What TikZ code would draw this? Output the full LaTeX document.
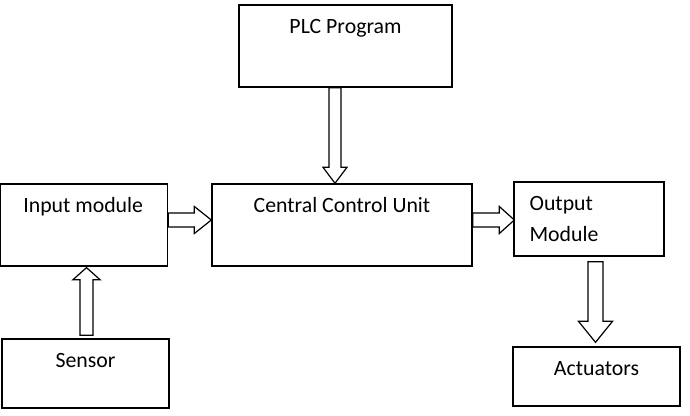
\documentclass[tikz,border=0pt]{standalone}
\usepackage{fontspec}
\setmainfont{Carlito}
\usetikzlibrary{calc}

\begin{document}
\begin{tikzpicture}[x=0.75pt,y=-0.75pt,
  font=\fontsize{16.35pt}{23.25pt}\selectfont,
  box/.style 2 args={draw,line width=1pt,inner sep=0pt,
    minimum width=#1*0.75pt,minimum height=#2*0.75pt},
  blockarrow/.style={draw,fill=white,line width=0.9pt,line join=miter}]
\useasboundingbox (0,0) rectangle (690,416);
% boxes
\node[box={213}{82}] (plc) at (345.5,46) {};
\node[box={260}{82}] (ccu) at (342,225) {};
\node[box={167}{82}] (inp) at (84.2,225) {};
\node[box={167}{69}] (sen) at (85.5,373.5) {};
\node[box={150}{74}] (out) at (589,219) {};
\node[box={167}{59}] (act) at (596.5,376.5) {};
% labels
\node[anchor=base] (plclabel) at ($(plc.north)+(0,29.5)$) {PLC Program};
\node[anchor=base] (cculabel) at ($(ccu.north)+(0,29.5)$) {Central Control Unit};
\node[anchor=base] (inplabel) at ($(inp.north)+(-1,29.5)$) {Input module};
\node[anchor=base] (senlabel) at ($(sen.north)+(0,29.5)$) {Sensor};
\node[anchor=base] (actlabel) at ($(act.north)+(0,29.5)$) {Actuators};
\node[anchor=base west,align=left,inner sep=0pt] (outlabel) at ($(out.north west)+(16,60)$) {Output\\Module};
% arrow axes
\coordinate (c1) at (335,0);
\coordinate (c2) at (0,220);
\coordinate (c3) at (86.5,0);
\coordinate (c5) at (595.5,0);
% PLC -> CCU
\draw[blockarrow] ($(c1 |- plc.south)+(-6,0)$) -- ($(c1 |- ccu.north)+(-6,-16)$)
  -- ($(c1 |- ccu.north)+(-12,-16)$) -- (c1 |- ccu.north)
  -- ($(c1 |- ccu.north)+(12,-16)$) -- ($(c1 |- ccu.north)+(6,-16)$)
  -- ($(c1 |- plc.south)+(6,0)$) -- cycle;
% input -> CCU
\draw[blockarrow] ($(inp.east |- c2)+(0,-7)$) -- ($(ccu.west |- c2)+(-17,-7)$)
  -- ($(ccu.west |- c2)+(-17,-13.5)$) -- (ccu.west |- c2)
  -- ($(ccu.west |- c2)+(-17,13.5)$) -- ($(ccu.west |- c2)+(-17,7)$)
  -- ($(inp.east |- c2)+(0,7)$) -- cycle;
% sensor -> input
\draw[blockarrow] ($(c3 |- sen.north)+(-6.5,-3)$) -- ($(c3 |- inp.south)+(-6.5,13)$)
  -- ($(c3 |- inp.south)+(-13.5,13)$) -- ($(c3 |- inp.south)+(0,1)$)
  -- ($(c3 |- inp.south)+(13.5,13)$) -- ($(c3 |- inp.south)+(6.5,13)$)
  -- ($(c3 |- sen.north)+(6.5,-3)$) -- cycle;
% CCU -> output
\draw[blockarrow] ($(ccu.east |- c2)+(0,-7)$) -- ($(out.west |- c2)+(-14,-7)$)
  -- ($(out.west |- c2)+(-14,-13.5)$) -- ($(out.west |- c2)+(1,0)$)
  -- ($(out.west |- c2)+(-14,13.5)$) -- ($(out.west |- c2)+(-14,7)$)
  -- ($(ccu.east |- c2)+(0,7)$) -- cycle;
% output -> actuators
\draw[blockarrow] ($(c5 |- out.south)+(-7.5,5)$) -- ($(c5 |- act.north)+(-7.5,-25)$)
  -- ($(c5 |- act.north)+(-17,-25)$) -- ($(c5 |- act.north)+(0,-4)$)
  -- ($(c5 |- act.north)+(17,-25)$) -- ($(c5 |- act.north)+(7.5,-25)$)
  -- ($(c5 |- out.south)+(7.5,5)$) -- cycle;
\end{tikzpicture}
\end{document}
